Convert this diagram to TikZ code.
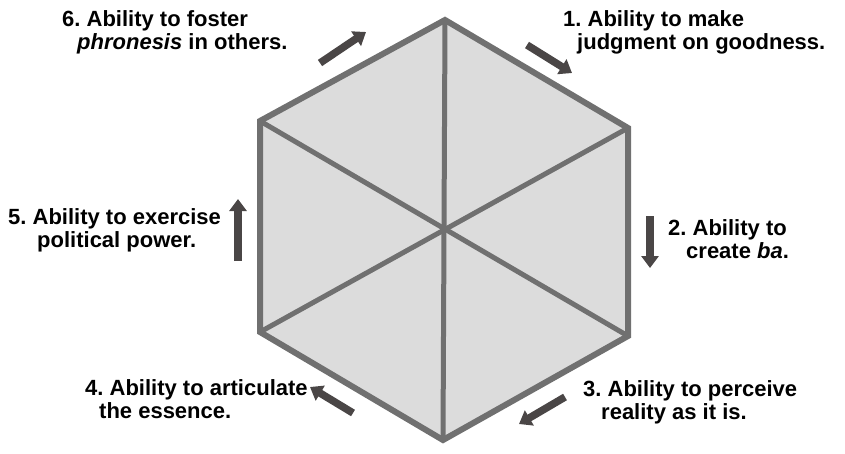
\documentclass[tikz,border=0pt]{standalone}
\usepackage{fontspec}
\setmainfont{Liberation Sans}
\usetikzlibrary{arrows.meta}
\frenchspacing
\definecolor{hexline}{RGB}{112,112,112}
\definecolor{hexfill}{RGB}{220,220,220}
\definecolor{arrowdark}{RGB}{74,70,70}
\tikzset{
  hexedge/.style={draw=hexline, line width=6pt, line join=miter},
  spoke/.style={draw=hexline, line width=5pt},
  flowarrow/.style={draw=arrowdark, line width=7.5pt, -{Triangle[width=17pt,length=12pt]}},
  lbl/.style={anchor=base west, inner sep=0pt, font=\fontsize{22}{24}\selectfont\bfseries}
}
\begin{document}
\begin{tikzpicture}[x=1pt,y=-1pt]
\useasboundingbox (0,0) rectangle (845,453);
% hexagon vertices
\coordinate (T) at (445,20);
\coordinate (UR) at (628,128);
\coordinate (LR) at (628,336);
\coordinate (B) at (443,440);
\coordinate (LL) at (260,332);
\coordinate (UL) at (260,121);
\fill[hexfill] (T) -- (UR) -- (LR) -- (B) -- (LL) -- (UL) -- cycle;
\draw[spoke] (T) -- (B);
\draw[spoke] (UR) -- (LL);
\draw[spoke] (UL) -- (LR);
\draw[hexedge] (T) -- (UR) -- (LR) -- (B) -- (LL) -- (UL) -- cycle;
% arrows
\coordinate (a1s) at (527,45); \coordinate (a1e) at (572,73);
\coordinate (a2s) at (650,216); \coordinate (a2e) at (650,268);
\coordinate (a3s) at (565,397); \coordinate (a3e) at (519,424);
\coordinate (a4s) at (353,413); \coordinate (a4e) at (310,387);
\coordinate (a5s) at (238,261); \coordinate (a5e) at (238,199);
\coordinate (a6s) at (320,63); \coordinate (a6e) at (366,32);
\draw[flowarrow] (a1s) -- (a1e);
\draw[flowarrow] (a2s) -- (a2e);
\draw[flowarrow] (a3s) -- (a3e);
\draw[flowarrow] (a4s) -- (a4e);
\draw[flowarrow] (a5s) -- (a5e);
\draw[flowarrow] (a6s) -- (a6e);
% labels
\node[lbl] (l1a) at (563,26) {1. Ability to make};
\node[lbl] (l1b) at (577,49) {judgment on goodness.};
\node[lbl] (l2a) at (668,235) {2. Ability to};
\node[lbl] (l2b) at (686,258) {create \textit{ba}.};
\node[lbl] (l3a) at (583,396) {3. Ability to perceive};
\node[lbl] (l3b) at (601,419) {reality as it is.};
\node[lbl] (l4a) at (85,395) {4. Ability to articulate};
\node[lbl] (l4b) at (99,418) {the essence.};
\node[lbl] (l5a) at (8,224) {5. Ability to exercise};
\node[lbl] (l5b) at (37,247) {political power.};
\node[lbl] (l6a) at (62,26) {6. Ability to foster};
\node[lbl] (l6b) at (77,49) {\textit{phronesis} in others.};
\end{tikzpicture}
\end{document}
